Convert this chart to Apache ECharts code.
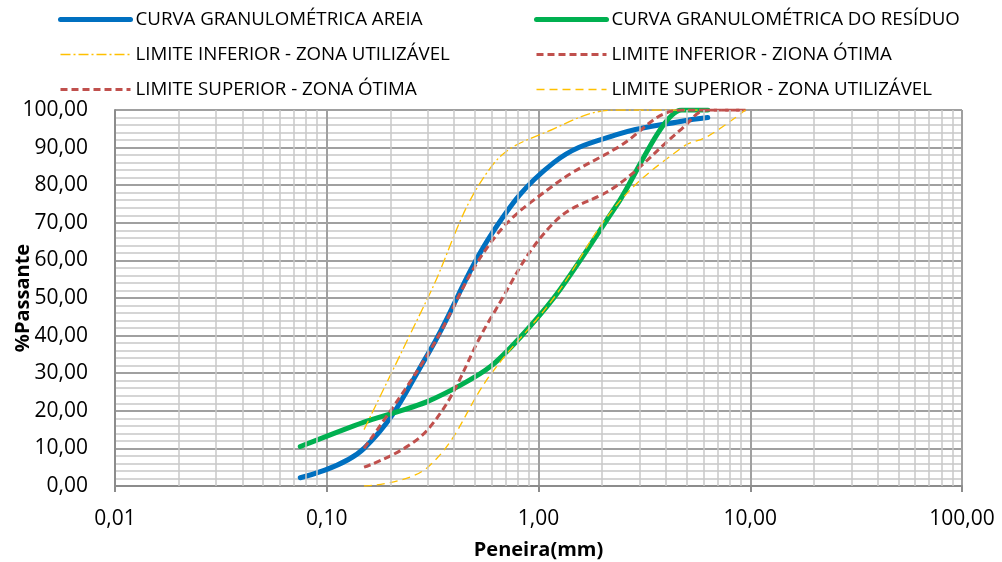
<!DOCTYPE html>
<html>
<head>
<meta charset="utf-8">
<script src="https://cdn.jsdelivr.net/npm/echarts@6/dist/echarts.min.js"></script>
<style>
  html, body { margin: 0; padding: 0; background: #fff; }
  #chart { width: 1002px; height: 562px; }
</style>
</head>
<body>
<div id="chart"></div>
<script>
// peneiras (mm)
const sievesAreia = [0.075, 0.15, 0.3, 0.6, 1.18, 2.36, 4.75, 6.3]
const areia = [2.2, 10, 35, 67, 86, 93.5, 97, 98]
const residuo = [10.5, 17, 22.5, 32, 50, 75, 100, 100]

// limites NBR 7211 (% passante)
const sievesLimites = [0.15, 0.3, 0.6, 1.18, 2.36, 4.75, 6.3, 9.5]
const limInfUtil = [15, 50, 85, 95, 100, 100, 100, 100]
const limInfOtima = [10, 35, 65, 80, 90, 100, 100, 100]
const limSupOtima = [5, 15, 45, 70, 80, 95, 100, 100]
const limSupUtil = [0, 5, 30, 50, 75, 90, 93, 100]

// linhas secundárias da grade log (2..9 de cada década)
const minorX = [0.02, 0.03, 0.04, 0.05, 0.06, 0.07, 0.08, 0.09,
  0.2, 0.3, 0.4, 0.5, 0.6, 0.7, 0.8, 0.9,
  2, 3, 4, 5, 6, 7, 8, 9,
  20, 30, 40, 50, 60, 70, 80, 90]

const names = [
  'CURVA GRANULOMÉTRICA AREIA',
  'CURVA GRANULOMÉTRICA DO RESÍDUO',
  'LIMITE INFERIOR - ZONA UTILIZÁVEL',
  'LIMITE INFERIOR - ZIONA ÓTIMA',
  'LIMITE SUPERIOR - ZONA ÓTIMA',
  'LIMITE SUPERIOR - ZONA UTILIZÁVEL'
]

const pairs = (xs, ys) => xs.map((x, i) => [x, ys[i]])
const fmt = v => Number(v).toFixed(2).replace('.', ',')
const FONT = 'Open Sans'
const SMOOTH = 0.4

const chart = echarts.init(document.getElementById('chart'))

const legendBase = {
  orient: 'vertical',
  top: 5,
  itemWidth: 70,
  itemHeight: 14,
  itemGap: 16,
  itemStyle: { opacity: 0 },
  lineStyle: { width: 'inherit' },
  textStyle: { fontFamily: FONT, fontSize: 18.7, color: '#000' },
  selectedMode: false
}

const option = {
  animation: false,
  backgroundColor: '#fff',
  legend: [
    Object.assign({}, legendBase, { left: 53, data: [names[0], names[2], names[4]] }),
    Object.assign({}, legendBase, { left: 529, data: [names[1], names[3], names[5]] })
  ],
  grid: { left: 115, right: 40, top: 110, bottom: 76, outerBoundsMode: 'none', containLabel: false },
  xAxis: {
    type: 'log',
    logBase: 10,
    min: 0.01,
    max: 100,
    name: 'Peneira(mm)',
    nameLocation: 'middle',
    nameGap: 54,
    nameMoveOverlap: false,
    nameTextStyle: { fontFamily: FONT, fontSize: 20, fontWeight: 'bold', color: '#000' },
    axisLine: { lineStyle: { color: '#8c8c8c', width: 2 } },
    axisTick: { show: true, length: 6, lineStyle: { color: '#8c8c8c', width: 2 } },
    axisLabel: { fontFamily: FONT, fontSize: 21, color: '#000', margin: 23, formatter: fmt },
    splitLine: { show: true, lineStyle: { color: '#a0a0a0', width: 2 } }
  },
  yAxis: {
    type: 'value',
    min: 0,
    max: 100,
    interval: 10,
    name: '%Passante',
    nameLocation: 'middle',
    nameGap: 82,
    nameRotate: 90,
    nameMoveOverlap: false,
    nameTextStyle: { fontFamily: FONT, fontSize: 20, fontWeight: 'bold', color: '#000' },
    axisLine: { show: true, lineStyle: { color: '#8c8c8c', width: 2 } },
    axisTick: { show: false },
    axisLabel: { fontFamily: FONT, fontSize: 21, color: '#000', margin: 27, formatter: fmt },
    splitLine: { show: true, lineStyle: { color: '#a0a0a0', width: 2 } },
    minorTick: { show: false, splitNumber: 5 },
    minorSplitLine: { show: true, lineStyle: { color: '#c8c8c8', width: 1.5 } }
  },
  series: [
    {
      name: 'grade',
      type: 'line',
      data: [],
      silent: true,
      z: 1,
      markLine: {
        silent: true,
        symbol: 'none',
        label: { show: false },
        lineStyle: { color: '#c8c8c8', width: 1.5, type: 'solid' },
        data: minorX.map(v => ({ xAxis: v }))
      }
    },
    {
      name: names[0], type: 'line', smooth: SMOOTH, symbol: 'none', z: 3,
      lineStyle: { color: '#0070C0', width: 5, cap: 'round' },
      itemStyle: { color: '#0070C0' },
      data: pairs(sievesAreia, areia)
    },
    {
      name: names[1], type: 'line', smooth: 0.25, symbol: 'none', z: 3,
      lineStyle: { color: '#00B050', width: 5, cap: 'round' },
      itemStyle: { color: '#00B050' },
      data: pairs(sievesAreia, residuo)
    },
    {
      name: names[2], type: 'line', smooth: SMOOTH, symbol: 'none', z: 4,
      lineStyle: { color: '#FFC000', width: 1.3, type: [10, 3, 2, 3] },
      itemStyle: { color: '#FFC000' },
      data: pairs(sievesLimites, limInfUtil)
    },
    {
      name: names[3], type: 'line', smooth: SMOOTH, symbol: 'none', z: 4,
      lineStyle: { color: '#C0504D', width: 3, type: [7, 4] },
      itemStyle: { color: '#C0504D' },
      data: pairs(sievesLimites, limInfOtima)
    },
    {
      name: names[4], type: 'line', smooth: SMOOTH, symbol: 'none', z: 4,
      lineStyle: { color: '#C0504D', width: 3, type: [7, 4] },
      itemStyle: { color: '#C0504D' },
      data: pairs(sievesLimites, limSupOtima)
    },
    {
      name: names[5], type: 'line', smooth: SMOOTH, symbol: 'none', z: 4,
      lineStyle: { color: '#FFC000', width: 1.3, type: [8, 5] },
      itemStyle: { color: '#FFC000' },
      data: pairs(sievesLimites, limSupUtil)
    }
  ]
}

chart.setOption(option)
window.addEventListener('resize', () => chart.resize())
</script>
</body>
</html>
